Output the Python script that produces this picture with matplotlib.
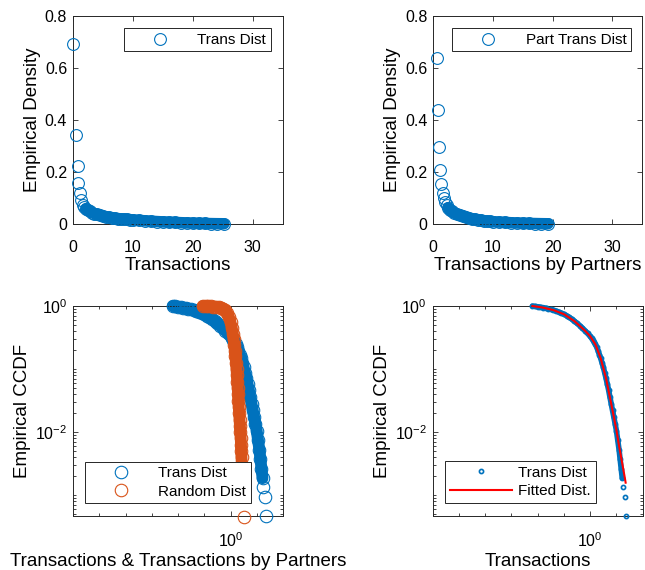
import matplotlib
matplotlib.use('Agg')
import matplotlib.pyplot as plt
import numpy as np
from matplotlib.ticker import FixedLocator, LogLocator, NullFormatter

plt.rcParams['font.family'] = ['Liberation Sans', 'DejaVu Sans']
plt.rcParams['mathtext.fontset'] = 'custom'
plt.rcParams['mathtext.rm'] = 'Liberation Sans'
plt.rcParams['mathtext.it'] = 'Liberation Sans:italic'
plt.rcParams['mathtext.bf'] = 'Liberation Sans:bold'
plt.rcParams['axes.unicode_minus'] = False

# ---------------- data ----------------
# Top-left: empirical density of transactions
trans_x = [0.12, 0.56, 0.84, 0.95, 1.23, 1.45, 1.67, 1.9, 2.2, 2.5, 2.8, 3.2, 3.6,
           4.0, 4.5, 5.0, 5.5, 6.0, 6.5, 7.0, 7.5, 8.0, 8.5, 9.0, 9.5, 10, 11, 12,
           13, 14, 15, 16, 17, 18, 19, 20, 21, 22, 23, 24, 25.2]
trans_dens = [0.692, 0.343, 0.222, 0.158, 0.119, 0.093, 0.074, 0.066, 0.060, 0.055,
              0.050, 0.045, 0.041, 0.038, 0.035, 0.032, 0.029, 0.027, 0.025, 0.023,
              0.022, 0.021, 0.020, 0.019, 0.018, 0.017, 0.015, 0.0135, 0.012, 0.0105,
              0.0093, 0.0082, 0.0072, 0.0062, 0.0053, 0.0045, 0.0038, 0.0032, 0.0027,
              0.0023, 0.002]

# Top-right: empirical density of transactions by partners
part_x = [0.67, 0.83, 0.95, 1.1, 1.35, 1.56, 1.78, 2.0, 2.25, 2.5, 2.8, 3.1, 3.5, 4.0,
          4.5, 5.0, 5.5, 6.0, 6.5, 7.0, 7.5, 8.0, 8.5, 9.0, 9.5, 10, 11, 12, 13, 14,
          15, 16, 17, 18, 19.2]
part_dens = [0.638, 0.44, 0.296, 0.209, 0.155, 0.12, 0.10, 0.085, 0.073, 0.064, 0.056,
             0.050, 0.044, 0.039, 0.035, 0.031, 0.027, 0.024, 0.021, 0.019, 0.017,
             0.015, 0.0135, 0.012, 0.011, 0.010, 0.0085, 0.0072, 0.006, 0.005, 0.0042,
             0.0035, 0.0029, 0.0024, 0.002]

# Bottom: empirical CCDF of transactions (Trans Dist)
ccdf_x = [0.00631, 0.00794, 0.0100, 0.0126, 0.0158, 0.0200, 0.0251, 0.0316, 0.0398,
          0.0501, 0.0631, 0.0794, 0.100, 0.126, 0.158, 0.200, 0.251, 0.316, 0.398,
          0.501, 0.631, 0.794, 1.00, 1.122, 1.259, 1.413, 1.585, 1.778, 1.995, 2.239,
          2.512, 2.818, 3.162, 3.548, 3.981, 4.467, 5.012, 5.623, 6.310, 7.079, 7.943,
          8.913, 10.00, 11.22, 12.59, 13.80, 15.14, 16.60, 17.78, 20.42, 23.44]
ccdf_y = [1.0, 0.9863, 0.9727, 0.9594, 0.9441, 0.9268, 0.9078, 0.8851, 0.8610, 0.8337,
          0.8035, 0.7727, 0.7413, 0.7031, 0.6607, 0.6194, 0.5754, 0.5321, 0.4898,
          0.4467, 0.4074, 0.3673, 0.3311, 0.3090, 0.2884, 0.2661, 0.2455, 0.2213,
          0.1950, 0.1698, 0.1479, 0.1259, 0.1072, 0.0881, 0.0724, 0.0582, 0.0468,
          0.0363, 0.0282, 0.0221, 0.0174, 0.0135, 0.0105, 0.00741, 0.00525, 0.00372,
          0.00263, 0.00186, 0.00135, 0.000933, 0.000468]

# Bottom-left: empirical CCDF of the random distribution
rand_x = [0.0871, 0.1122, 0.1413, 0.1778, 0.2239, 0.2818, 0.3548, 0.4467, 0.5370,
          0.6310, 0.7413, 0.8710, 1.000, 1.122, 1.230, 1.318, 1.413, 1.479, 1.549,
          1.622, 1.698, 1.758, 1.820, 1.884, 1.950, 1.995, 2.065, 2.138, 2.213, 2.291,
          2.371, 2.455, 2.512, 2.570, 2.630, 2.692, 2.754, 2.884, 3.162]
rand_y = [1.0, 0.9954, 0.9908, 0.9863, 0.9795, 0.9705, 0.9594, 0.9419, 0.9120, 0.8610,
          0.7762, 0.6607, 0.5495, 0.4467, 0.3631, 0.2951, 0.2399, 0.1950, 0.1585,
          0.1259, 0.1000, 0.0794, 0.0631, 0.0501, 0.0398, 0.0316, 0.0251, 0.0200,
          0.0158, 0.0126, 0.0100, 0.00794, 0.00631, 0.00501, 0.00398, 0.00282,
          0.00200, 0.00126, 0.000457]

# Bottom-right: fitted distribution
fit_x = [0.00631, 0.0158, 0.0398, 0.100, 0.251, 0.631, 1.0, 1.585, 2.512, 3.981,
         6.310, 10.0, 12.59, 15.85, 19.95, 22.39]
fit_y = [1.0, 0.9441, 0.8610, 0.7413, 0.5754, 0.4074, 0.3311, 0.2455, 0.1479, 0.0724,
         0.0282, 0.0107, 0.00603, 0.00355, 0.00209, 0.00158]

density_xticks = [0, 10, 20, 30]
density_xticklabels = ['0', '10', '20', '30']
density_yticks = [0, 0.2, 0.4, 0.6, 0.8]
density_yticklabels = ['0', '0.2', '0.4', '0.6', '0.8']
ccdf_xticks = [1.0]
ccdf_yticks = [1e-2, 1.0]

# ---------------- style ----------------
BLUE = '#0072BD'
ORANGE = '#D95319'
RED = '#FF0000'
AXC = '#262626'
TICK_FS = 11.5
LABEL_FS = 13.5
LEG_FS = 11

W, H = 645.0, 570.0
fig = plt.figure(figsize=(W / 100, H / 100), dpi=100)


def add_ax(l, t, w, h):
    return fig.add_axes([l / W, 1 - (t + h) / H, w / W, h / H])


def style_axes(ax):
    for s in ax.spines.values():
        s.set_color(AXC)
        s.set_linewidth(0.7)
    ax.tick_params(which='both', direction='in', top=True, right=True,
                   colors=AXC, labelcolor='black', labelsize=TICK_FS, width=0.6)
    ax.tick_params(which='major', length=3.5)
    ax.tick_params(which='minor', length=2)
    ax.tick_params(axis='x', which='both', pad=11)
    ax.tick_params(axis='y', which='both', pad=4)


def make_legend(ax, handles, labels, loc, anchor):
    leg = ax.legend(handles, labels, loc=loc, bbox_to_anchor=anchor,
                    borderaxespad=0, fontsize=LEG_FS, handlelength=4.1,
                    handletextpad=0.4, borderpad=0.3, labelspacing=0.3,
                    numpoints=1, fancybox=False, framealpha=1, edgecolor=AXC)
    leg.get_frame().set_linewidth(0.7)
    return leg


# ---- top-left ----
ax1 = add_ax(72.7, 16, 210, 208.3)
ax1.plot(trans_x[8:], trans_dens[8:], '-', color=BLUE, lw=8.3,
         solid_capstyle='round', zorder=2, clip_on=False)
h1, = ax1.plot(trans_x, trans_dens, 'o', color=BLUE, mfc='none', ms=8.5, mew=0.8,
               zorder=3, clip_on=False)
ax1.set_xlim(0, 35)
ax1.set_ylim(0, 0.8)
ax1.set_xticks(density_xticks)
ax1.set_xticklabels(density_xticklabels)
ax1.set_yticks(density_yticks)
ax1.set_yticklabels(density_yticklabels)
style_axes(ax1)
ax1.set_xlabel('Transactions', fontsize=LABEL_FS, labelpad=2)
ax1.set_ylabel('Empirical Density', fontsize=LABEL_FS, labelpad=3)
make_legend(ax1, [h1], ['Trans Dist'], 'upper right', (0.943, 0.941))

# ---- top-right ----
ax2 = add_ax(433.3, 16, 209, 208.3)
ax2.plot(part_x[9:], part_dens[9:], '-', color=BLUE, lw=8.3,
         solid_capstyle='round', zorder=2, clip_on=False)
h2, = ax2.plot(part_x, part_dens, 'o', color=BLUE, mfc='none', ms=8.5, mew=0.8,
               zorder=3, clip_on=False)
ax2.set_xlim(0, 35)
ax2.set_ylim(0, 0.8)
ax2.set_xticks(density_xticks)
ax2.set_xticklabels(density_xticklabels)
ax2.set_yticks(density_yticks)
ax2.set_yticklabels(density_yticklabels)
style_axes(ax2)
ax2.set_xlabel('Transactions by Partners', fontsize=LABEL_FS, labelpad=2)
ax2.set_ylabel('Empirical Density', fontsize=LABEL_FS, labelpad=3)
make_legend(ax2, [h2], ['Part Trans Dist'], 'upper right', (0.946, 0.941))


def log_axes(ax):
    ax.set_xscale('log')
    ax.set_yscale('log')
    ax.set_xlim(1e-6, 1e2)
    ax.set_ylim(min(ccdf_y), 1.0)
    ax.xaxis.set_major_locator(FixedLocator(ccdf_xticks))
    ax.xaxis.set_minor_locator(LogLocator(base=10, subs=(1.0,), numticks=30))
    ax.xaxis.set_minor_formatter(NullFormatter())
    ax.yaxis.set_major_locator(FixedLocator(ccdf_yticks))
    ax.yaxis.set_minor_locator(LogLocator(base=10, subs=np.arange(1, 10), numticks=30))
    ax.yaxis.set_minor_formatter(NullFormatter())
    style_axes(ax)


# ---- bottom-left ----
ax3 = add_ax(73, 306, 210, 210)
ax3.plot(ccdf_x[:-3], ccdf_y[:-3], '-', color=BLUE, lw=8.5,
         solid_capstyle='round', zorder=2, clip_on=False)
h3a, = ax3.plot(ccdf_x, ccdf_y, 'o', color=BLUE, mfc='none', ms=9, mew=0.8,
                zorder=3, clip_on=False)
ax3.plot(rand_x[:-1], rand_y[:-1], '-', color=ORANGE, lw=8.5,
         solid_capstyle='round', zorder=4, clip_on=False)
h3b, = ax3.plot(rand_x, rand_y, 'o', color=ORANGE, mfc='none', ms=9, mew=0.8,
                zorder=5, clip_on=False)
log_axes(ax3)
ax3.set_xlabel('Transactions & Transactions by Partners', fontsize=LABEL_FS, labelpad=2)
ax3.set_ylabel('Empirical CCDF', fontsize=LABEL_FS, labelpad=3)
leg3 = make_legend(ax3, [h3a, h3b], ['Trans Dist', 'Random Dist'], 'lower left',
                   (0.057, 0.060))
leg3.set_zorder(10)

# ---- bottom-right ----
ax4 = add_ax(432.7, 306, 210, 210)
ax4.plot(ccdf_x[:-3], ccdf_y[:-3], '-', color=BLUE, lw=4.0,
         solid_capstyle='round', zorder=2, clip_on=False)
h4a, = ax4.plot(ccdf_x, ccdf_y, 'o', color=BLUE, mfc='none', ms=3, mew=1.2,
                zorder=3, clip_on=False)
h4b, = ax4.plot(fit_x, fit_y, '-', color=RED, lw=1.5, zorder=4, clip_on=False)
log_axes(ax4)
ax4.set_xlabel('Transactions', fontsize=LABEL_FS, labelpad=2)
ax4.set_ylabel('Empirical CCDF', fontsize=LABEL_FS, labelpad=3)
leg4 = make_legend(ax4, [h4a, h4b], ['Trans Dist', 'Fitted Dist.'], 'lower left',
                   (0.059, 0.063))
leg4.set_zorder(10)

fig.savefig('out.png', dpi=100)
